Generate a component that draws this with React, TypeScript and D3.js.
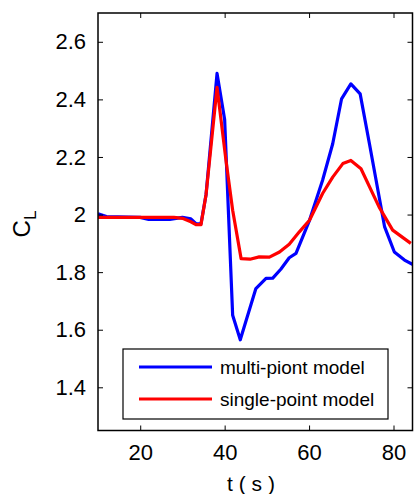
import { useEffect, useRef } from "react";
import * as d3 from "d3";

const multiT = [10, 12, 20, 22, 27, 30, 32, 33.2, 34.4, 35.6, 38.2, 40, 41.9, 43.7, 47.4, 49.8, 51.4, 53.3, 55.3, 56.9, 60.1, 63.2, 65.6, 67.7, 69.9, 72.1, 74.3, 77.9, 80.2, 82.6, 84.6];
const multiCL = [2.003, 1.993, 1.99, 1.983, 1.983, 1.99, 1.985, 1.968, 1.968, 2.07, 2.49, 2.33, 1.65, 1.565, 1.743, 1.778, 1.779, 1.81, 1.85, 1.865, 1.98, 2.119, 2.246, 2.402, 2.454, 2.419, 2.246, 1.957, 1.87, 1.842, 1.826];

const singleT = [10, 28, 30, 32, 33.2, 34.4, 35.6, 38.2, 40.3, 41.9, 43.9, 46, 48.2, 50.6, 53, 55.3, 57.7, 60.1, 63.2, 65.6, 68, 69.9, 72.3, 76.6, 79.8, 84.1];
const singleCL = [1.99, 1.99, 1.987, 1.975, 1.965, 1.965, 2.07, 2.442, 2.19, 2.015, 1.847, 1.845, 1.853, 1.852, 1.87, 1.897, 1.94, 1.98, 2.073, 2.13, 2.177, 2.188, 2.159, 2.026, 1.946, 1.9];

const xTicks = [20, 40, 60, 80];
const yTicks = [1.4, 1.6, 1.8, 2, 2.2, 2.4, 2.6];
const legendNames = ["multi-piont model", "single-point model"];
const colors = ["#0000ff", "#ff0000"];

const W = 414;
const H = 494;
const FONT = "'Liberation Sans', Arial, sans-serif";

const App = () => {
  const ref = useRef<SVGSVGElement>(null);

  useEffect(() => {
    const svg = d3.select(ref.current);
    svg.selectAll("*").remove();

    const left = 98, right = 412.5, top = 13, bottom = 430.5;
    const x = d3.scaleLinear().domain([10, 84.5]).range([left, right]);
    const y = d3.scaleLinear().domain([1.25, 2.7]).range([bottom, top]);

    svg.append("defs").append("clipPath").attr("id", "plotclip")
      .append("rect").attr("x", left).attr("y", top)
      .attr("width", right - left).attr("height", bottom - top);

    const line = d3.line<[number, number]>().x(d => x(d[0])).y(d => y(d[1]));
    const series: [number, number][][] = [
      multiT.map((t, i) => [t, multiCL[i]]),
      singleT.map((t, i) => [t, singleCL[i]]),
    ];

    const g = svg.append("g").attr("clip-path", "url(#plotclip)");
    series.forEach((s, i) => {
      g.append("path").datum(s).attr("d", line)
        .attr("fill", "none").attr("stroke", colors[i])
        .attr("stroke-width", 3.2).attr("stroke-linejoin", "round");
    });

    // axes, ticks inward on all four sides
    const tl = 5;
    const axStyle = (sel: any) => {
      sel.select(".domain").remove();
      sel.selectAll("line").attr("stroke", "#000");
      sel.selectAll("text").attr("font-family", FONT).attr("font-size", 22).attr("fill", "#000");
    };
    svg.append("g").attr("transform", `translate(0,${bottom})`)
      .call(d3.axisBottom(x).tickValues(xTicks).tickSize(-tl).tickPadding(14).tickFormat(d3.format("d")))
      .call(axStyle);
    svg.append("g").attr("transform", `translate(0,${top})`)
      .call(d3.axisTop(x).tickValues(xTicks).tickSize(-tl).tickFormat(() => ""))
      .call(axStyle);
    svg.append("g").attr("transform", `translate(${left},0)`)
      .call(d3.axisLeft(y).tickValues(yTicks).tickSize(-tl).tickPadding(12).tickFormat(d3.format("~g")))
      .call(axStyle);
    svg.append("g").attr("transform", `translate(${right},0)`)
      .call(d3.axisRight(y).tickValues(yTicks).tickSize(-tl).tickFormat(() => ""))
      .call(axStyle);

    svg.append("rect").attr("x", left).attr("y", top)
      .attr("width", right - left).attr("height", bottom - top)
      .attr("fill", "none").attr("stroke", "#000").attr("stroke-width", 1.5);

    // axis labels
    svg.append("text").attr("x", 251).attr("y", 491)
      .attr("text-anchor", "middle").attr("font-family", FONT).attr("font-size", 21)
      .text("t ( s )");
    const yl = svg.append("text").attr("transform", "translate(29.5,224) rotate(-90)")
      .attr("text-anchor", "middle").attr("font-family", FONT).attr("font-size", 24);
    yl.append("tspan").text("C");
    yl.append("tspan").attr("font-size", 17).attr("dy", 6).text("L");

    // legend
    const lg = svg.append("g");
    lg.append("rect").attr("x", 123).attr("y", 349).attr("width", 265).attr("height", 70)
      .attr("fill", "#fff").attr("stroke", "#000").attr("stroke-width", 1.2);
    legendNames.forEach((name, i) => {
      const ly = 367 + i * 32;
      lg.append("line").attr("x1", 139).attr("x2", 212).attr("y1", ly).attr("y2", ly)
        .attr("stroke", colors[i]).attr("stroke-width", 3.2);
      lg.append("text").attr("x", 220).attr("y", ly + 6.5)
        .attr("font-family", FONT).attr("font-size", 19).text(name);
    });
  }, []);

  return (
    <svg ref={ref} width={W} height={H}
      style={{ position: "absolute", left: 0, top: 0, background: "#fff" }} />
  );
};

export default App;
